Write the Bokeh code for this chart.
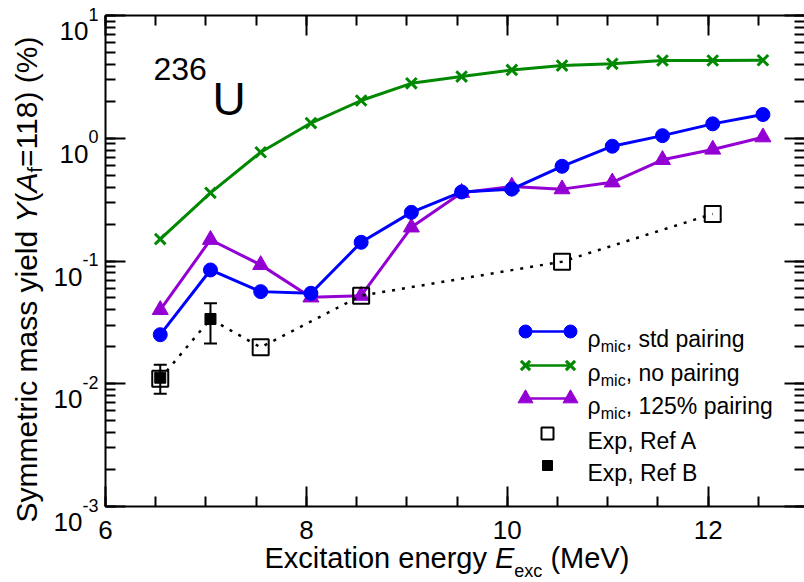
import math
from bokeh.plotting import figure
from bokeh.models import (Range1d, LinearAxis, LogAxis, SingleIntervalTicker, LogTicker,
                          ColumnDataSource, Whisker, TeeHead, CustomJSTickFormatter)
from bokeh.core.properties import value
from bokeh.embed import file_html
from bokeh.resources import INLINE

# ---------------- data ----------------
energy = [6.545, 7.045, 7.545, 8.045, 8.545, 9.045, 9.545, 10.045, 10.545, 11.045, 11.545, 12.045, 12.545]
yield_std = [0.0251, 0.0845, 0.0563, 0.0546, 0.142, 0.249, 0.365, 0.385, 0.591, 0.861, 1.05, 1.31, 1.56]
yield_nopair = [0.151, 0.359, 0.769, 1.33, 2.03, 2.80, 3.18, 3.60, 3.91, 4.04, 4.30, 4.30, 4.32]
yield_125 = [0.040, 0.149, 0.0930, 0.0506, 0.0522, 0.188, 0.360, 0.405, 0.385, 0.438, 0.667, 0.81, 1.02]

refA_energy = [6.545, 7.545, 8.545, 10.545, 12.045]
refA_yield = [0.0110, 0.0198, 0.0522, 0.0988, 0.242]

refB_energy = [6.545, 7.045]
refB_yield = [0.0112, 0.0337]
refB_low = [0.0083, 0.0213]
refB_high = [0.0143, 0.0452]

y_tick_values = [1e-3, 1e-2, 1e-1, 1e0, 1e1]
y_tick_exponents = ["-3", "-2", "-1", "0", "1"]

legend_labels = [", std pairing", ", no pairing", ", 125% pairing", "Exp, Ref A", "Exp, Ref B"]

BLUE = "#0000FF"
GREEN = "#008800"
PURPLE = "#9400D3"
FONT = "Liberation Sans"

# ---------------- geometry (page pixels; canvas = page) ----------------
PW, PH = 804, 582
FL, FR, FT, FB = 105, 804, 15, 506      # visible plot box
X0 = 6.0
X1 = X0 + (FR - FL) / 100.45
Y0, Y1 = 1e-3, 1e1
L0, L1 = math.log10(Y0), math.log10(Y1)


def px2x(px):
    return X0 + (px - FL) / (FR - FL) * (X1 - X0)


def py2y(py):
    return 10 ** (L1 - (py - FT) / (FB - FT) * (L1 - L0))


def y2py(y):
    return FT + (L1 - math.log10(y)) / (L1 - L0) * (FB - FT)


AW = {'S': 667, 'y': 500, 'm': 833, 'e': 556, 't': 278, 'r': 333, 'i': 222, 'c': 500, ' ': 278,
      'a': 556, 's': 500, 'l': 222, 'd': 556, 'Y': 667, '(': 333, ')': 333, 'A': 667, 'f': 278,
      '=': 584, '%': 889, 'E': 667, 'x': 500, 'n': 556, 'g': 556, 'o': 556, 'M': 833, 'V': 667,
      '-': 333, 'p': 556, 'R': 722, ',': 278, 'ρ': 578}


def tw(s, size):
    return sum(AW.get(ch, 556) for ch in s) * size / 1000.0


# the frame fills the whole canvas; the visible axes sit at fixed data locations
p = figure(width=PW, height=PH, x_range=Range1d(px2x(0), px2x(PW)), y_range=Range1d(py2y(PH), py2y(0)),
           y_axis_type="log", output_backend="svg", toolbar_location=None,
           min_border_left=0, min_border_right=0, min_border_top=0, min_border_bottom=0)
p.xgrid.visible = False
p.ygrid.visible = False
p.outline_line_color = None
p.background_fill_color = "white"
p.border_fill_color = "white"

blank = CustomJSTickFormatter(code="return ''")


def style_axis(ax, show_line=True):
    ax.major_tick_in = 20
    ax.major_tick_out = 0
    ax.minor_tick_in = 10
    ax.minor_tick_out = 0
    ax.axis_line_width = 2
    ax.major_tick_line_width = 2
    ax.minor_tick_line_width = 2
    ax.axis_line_color = "black" if show_line else None
    ax.major_tick_line_color = "black"
    ax.minor_tick_line_color = "black"


xb = p.xaxis[0]
xb.ticker = SingleIntervalTicker(interval=2, num_minor_ticks=4)
xb.fixed_location = Y0
xb.bounds = (X0, X1)
style_axis(xb)
xb.major_label_text_font = FONT
xb.major_label_text_font_size = "26px"
xb.major_label_text_color = "black"
xb.major_label_standoff = 14

yl = p.yaxis[0]
yl.ticker = LogTicker(num_minor_ticks=10)
yl.fixed_location = X0
yl.bounds = (Y0, Y1)
style_axis(yl)
yl.formatter = blank
yl.major_label_standoff = 0

xt = LinearAxis(ticker=SingleIntervalTicker(interval=2, num_minor_ticks=4), formatter=blank,
                major_label_standoff=0, fixed_location=Y1, bounds=(X0, X1))
style_axis(xt)
p.add_layout(xt, "above")

yr = LogAxis(ticker=LogTicker(num_minor_ticks=10), formatter=blank, major_label_standoff=0,
             fixed_location=X1, bounds=(Y0, Y1))
style_axis(yr, show_line=False)
p.add_layout(yr, "right")

# ---------------- series ----------------
p.line(energy, yield_nopair, line_color=GREEN, line_width=3)
p.scatter(energy, yield_nopair, marker="x", size=15, line_color=GREEN, line_width=3)

p.line(energy, yield_125, line_color=PURPLE, line_width=3)
p.scatter(energy, yield_125, marker="triangle", size=16, fill_color=PURPLE, line_color=PURPLE)

p.line(energy, yield_std, line_color=BLUE, line_width=3)
p.scatter(energy, yield_std, marker="circle", size=14, fill_color=BLUE, line_color=BLUE)

pts = sorted(list(zip(refA_energy, refA_yield)) +
             [(e, v) for e, v in zip(refB_energy, refB_yield) if e not in refA_energy])
p.line([q[0] for q in pts], [q[1] for q in pts], line_color="black", line_width=2.5, line_dash="3 7")

errsrc = ColumnDataSource(dict(x=refB_energy, lo=refB_low, hi=refB_high))
p.add_layout(Whisker(source=errsrc, base="x", upper="hi", lower="lo", line_width=2, line_color="black",
                     upper_head=TeeHead(size=13, line_width=2, line_color="black"),
                     lower_head=TeeHead(size=13, line_width=2, line_color="black")))
p.scatter(refA_energy, refA_yield, marker="square", size=16, fill_alpha=0, line_color="black", line_width=2)
p.scatter(refB_energy, refB_yield, marker="square", size=11, fill_color="black", line_color="black")


def gtext(px, py, s, size, style="normal", angle=0.0, align="left"):
    p.text(x=[px2x(px)], y=[py2y(py)], text=[s], text_font=value(FONT), text_font_size=value(f"{size}px"),
           text_font_style=style, text_color="black", text_align=align,
           text_baseline="alphabetic", angle=angle)


# ---------------- y tick labels ----------------
for v, ex in zip(y_tick_values, y_tick_exponents):
    ew = tw(ex, 18)
    ty = y2py(v)
    gtext(FL - 7 - ew, ty + 15.5, "10", 26, align="right")
    gtext(FL - 7 - ew, ty - 1.5, ex, 18, align="left")

# ---------------- nucleus label ----------------
gtext(153, 68, "236", 32)
gtext(212, 98, "U", 46)

# ---------------- legend ----------------
rows = [331, 365, 398, 433, 465]
lx0, lx1, lxm = 525, 570, 547
for r, (col, mk, sz) in zip(rows[:3], [(BLUE, "circle", 13), (GREEN, "x", 13), (PURPLE, "triangle", 15)]):
    yy = py2y(r)
    p.line([px2x(lx0), px2x(lx1)], [yy, yy], line_color=col, line_width=2.5)
    if mk == "x":
        p.scatter([px2x(lx0), px2x(lx1)], [yy, yy], marker=mk, size=sz, line_color=col, line_width=3)
    else:
        p.scatter([px2x(lx0), px2x(lx1)], [yy, yy], marker=mk, size=sz, fill_color=col, line_color=col)
p.scatter([px2x(lxm)], [py2y(rows[3])], marker="square", size=12, fill_alpha=0, line_color="black", line_width=2)
p.scatter([px2x(lxm)], [py2y(rows[4])], marker="square", size=10, fill_color="black", line_color="black")

tx = 587
for r, lab in zip(rows[:3], legend_labels[:3]):
    gtext(tx, r + 7, "ρ", 23)
    sx = tx + tw("ρ", 23)
    gtext(sx, r + 15, "mic", 16)
    sx += tw("mic", 16)
    gtext(sx, r + 7, lab, 23)
for r, lab in zip(rows[3:], legend_labels[3:]):
    gtext(tx, r + 7, lab, 23)

# ---------------- x title ----------------
xs = 264
bx = 557
gtext(xs, bx, "Excitation energy", 29)
xs += tw("Excitation energy ", 29)
gtext(xs, bx, "E", 29, style="italic")
xs += tw("E", 29)
gtext(xs, bx + 13, "exc", 18)
xs += tw("exc", 18) + tw(" ", 29)
gtext(xs, bx, "(MeV)", 29)

# ---------------- y title ----------------
ang = math.pi / 2
fs = 30
by = 522
bxl = 26
gtext(bxl, by, "Symmetric mass yield", fs, angle=ang)
by -= tw("Symmetric mass yield ", fs)
gtext(bxl, by, "Y", fs, style="italic", angle=ang)
by -= tw("Y", fs)
gtext(bxl, by, "(", fs, angle=ang)
by -= tw("(", fs)
gtext(bxl, by, "A", fs, style="italic", angle=ang)
by -= tw("A", fs)
gtext(bxl + 8, by, "f", 20, angle=ang)
by -= tw("f", 20)
gtext(bxl, by, "=118) (%)", fs, angle=ang)

open("out.html", "w").write(file_html(p, INLINE))
